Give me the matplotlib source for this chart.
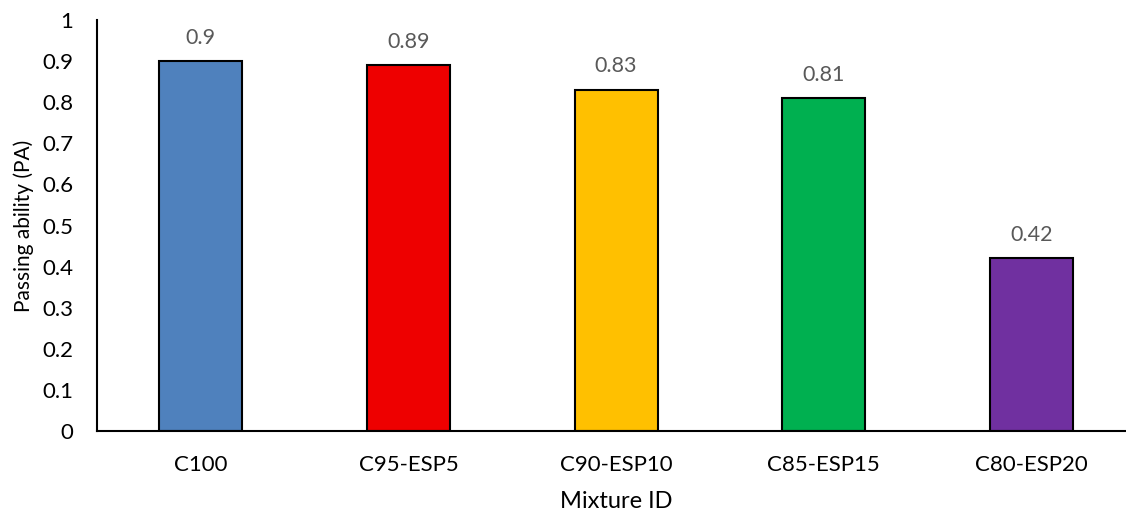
import matplotlib.pyplot as plt

plt.rcParams['font.family'] = ['Lato', 'DejaVu Sans']

mixtures = ["C100", "C95-ESP5", "C90-ESP10", "C85-ESP15", "C80-ESP20"]
pa_values = [0.9, 0.89, 0.83, 0.81, 0.42]
bar_colors = ["#4f81bd", "#ee0000", "#ffc000", "#00b050", "#7030a0"]

fig = plt.figure(figsize=(11.26, 5.13), dpi=100)
ax = fig.add_axes([0.0861, 0.1598, 0.922, 0.801])

x = range(len(mixtures))
bars = ax.bar(x, pa_values, width=0.4, color=bar_colors, edgecolor="black", linewidth=1.5)

# value labels above each bar
for b, v in zip(bars, pa_values):
    ax.text(b.get_x() + b.get_width() / 2, v + 0.033, f"{v:g}",
            ha="center", va="bottom", fontsize=15.5, color="#595959")

ax.set_xlim(-0.5, 4.5)
ax.set_ylim(0, 1)
ax.set_yticks([i / 10 for i in range(11)])
ax.set_yticklabels(["0", "0.1", "0.2", "0.3", "0.4", "0.5", "0.6", "0.7", "0.8", "0.9", "1"])
ax.set_xticks(list(x))
ax.set_xticklabels(mixtures)
ax.tick_params(axis="both", length=0, labelsize=16, colors="black")
ax.tick_params(axis="x", pad=17)
ax.tick_params(axis="y", pad=17)

ax.spines["top"].set_visible(False)
ax.spines["right"].set_visible(False)
ax.spines["left"].set_linewidth(1.5)
ax.spines["bottom"].set_linewidth(1.5)

ax.set_ylabel("Passing ability (PA)", fontsize=15, labelpad=6)
ax.set_xlabel("Mixture ID", fontsize=17, labelpad=12)

fig.savefig("out.png", dpi=100)
